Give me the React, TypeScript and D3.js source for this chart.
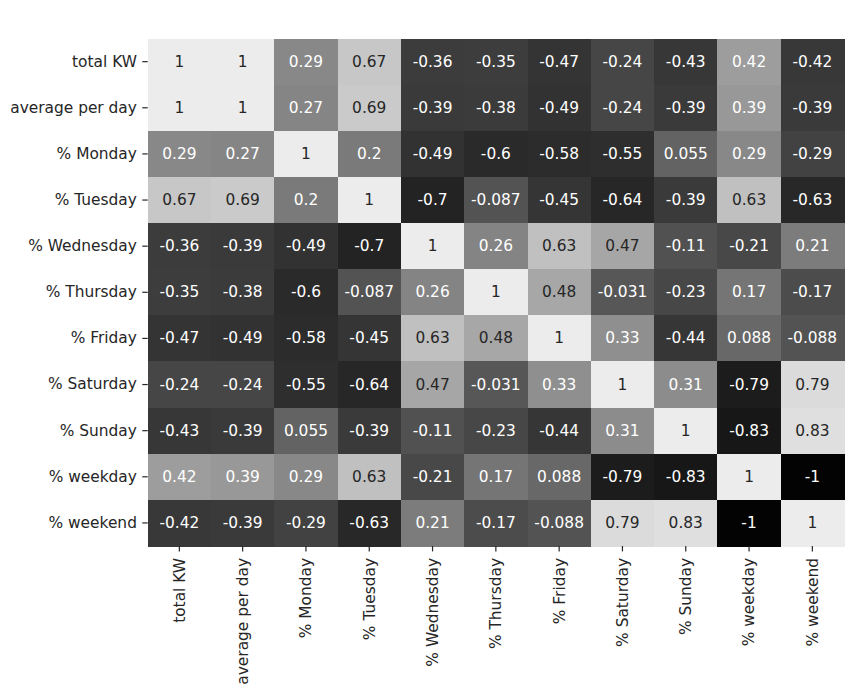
import { useRef, useEffect } from "react";
import * as d3 from "d3";

const labels = [
  "total KW",
  "average per day",
  "% Monday",
  "% Tuesday",
  "% Wednesday",
  "% Thursday",
  "% Friday",
  "% Saturday",
  "% Sunday",
  "% weekday",
  "% weekend",
];

const rowTotalKW = [1, 1, 0.29, 0.67, -0.36, -0.35, -0.47, -0.24, -0.43, 0.42, -0.42];
const rowAvgPerDay = [1, 1, 0.27, 0.69, -0.39, -0.38, -0.49, -0.24, -0.39, 0.39, -0.39];
const rowMonday = [0.29, 0.27, 1, 0.2, -0.49, -0.6, -0.58, -0.55, 0.055, 0.29, -0.29];
const rowTuesday = [0.67, 0.69, 0.2, 1, -0.7, -0.087, -0.45, -0.64, -0.39, 0.63, -0.63];
const rowWednesday = [-0.36, -0.39, -0.49, -0.7, 1, 0.26, 0.63, 0.47, -0.11, -0.21, 0.21];
const rowThursday = [-0.35, -0.38, -0.6, -0.087, 0.26, 1, 0.48, -0.031, -0.23, 0.17, -0.17];
const rowFriday = [-0.47, -0.49, -0.58, -0.45, 0.63, 0.48, 1, 0.33, -0.44, 0.088, -0.088];
const rowSaturday = [-0.24, -0.24, -0.55, -0.64, 0.47, -0.031, 0.33, 1, 0.31, -0.79, 0.79];
const rowSunday = [-0.43, -0.39, 0.055, -0.39, -0.11, -0.23, -0.44, 0.31, 1, -0.83, 0.83];
const rowWeekday = [0.42, 0.39, 0.29, 0.63, -0.21, 0.17, 0.088, -0.79, -0.83, 1, -1];
const rowWeekend = [-0.42, -0.39, -0.29, -0.63, 0.21, -0.17, -0.088, 0.79, 0.83, -1, 1];

const matrix = [
  rowTotalKW,
  rowAvgPerDay,
  rowMonday,
  rowTuesday,
  rowWednesday,
  rowThursday,
  rowFriday,
  rowSaturday,
  rowSunday,
  rowWeekday,
  rowWeekend,
];

type Cell = { r: number; c: number; v: number };

const App = () => {
  const ref = useRef<SVGSVGElement | null>(null);

  useEffect(() => {
    if (!ref.current) return;
    const svg = d3.select(ref.current);
    svg.selectAll("*").remove();

    const width = 863;
    const height = 698;
    const margin = { top: 38.6, right: 19, bottom: 152, left: 147.7 };
    const font = "'DejaVu Sans', sans-serif";
    const fs = 15.4;

    const x = d3
      .scaleBand<string>()
      .domain(labels)
      .range([margin.left, width - margin.right]);
    const y = d3
      .scaleBand<string>()
      .domain(labels)
      .range([margin.top, height - margin.bottom]);

    // grey ramp (luminance of the original palette)
    const gray = d3
      .scaleLinear<number>()
      .domain([-1, -0.8, -0.6, -0.4, -0.2, 0, 0.2, 0.4, 0.6, 0.8, 1])
      .range([3, 27, 42, 57, 73, 90, 122, 154, 187, 221, 236])
      .clamp(true);
    const fill = (v: number) => {
      const g = Math.round(gray(v));
      return d3.rgb(g, g, g).formatHex();
    };

    const cells: Cell[] = [];
    matrix.forEach((row, r) => row.forEach((v, c) => cells.push({ r, c, v })));

    const g = svg.append("g");
    g.selectAll("rect")
      .data(cells)
      .join("rect")
      .attr("x", (d) => x(labels[d.c]) ?? 0)
      .attr("y", (d) => y(labels[d.r]) ?? 0)
      .attr("width", x.bandwidth() + 0.5)
      .attr("height", y.bandwidth() + 0.5)
      .attr("fill", (d) => fill(d.v))
      .attr("shape-rendering", "crispEdges");

    g.selectAll("text")
      .data(cells)
      .join("text")
      .attr("x", (d) => (x(labels[d.c]) ?? 0) + x.bandwidth() / 2)
      .attr("y", (d) => (y(labels[d.r]) ?? 0) + y.bandwidth() / 2)
      .attr("text-anchor", "middle")
      .attr("dominant-baseline", "central")
      .attr("font-family", font)
      .attr("font-size", fs)
      .attr("fill", (d) => (gray(d.v) > 162 ? "#262626" : "#ffffff"))
      .text((d) => String(d.v));

    // Y axis
    const yAxis = d3.axisLeft(y).tickSize(5.4).tickPadding(5.4);
    const ya = svg
      .append("g")
      .attr("transform", `translate(${margin.left},0)`)
      .call(yAxis as any);
    ya.select(".domain").remove();
    ya.selectAll(".tick line").attr("stroke", "#262626").attr("stroke-width", 1.2);
    ya.selectAll(".tick text")
      .attr("font-family", font)
      .attr("font-size", fs)
      .attr("fill", "#262626");

    // X axis
    const xAxis = d3.axisBottom(x).tickSize(5.4).tickPadding(5.4);
    const xa = svg
      .append("g")
      .attr("transform", `translate(0,${height - margin.bottom})`)
      .call(xAxis as any);
    xa.select(".domain").remove();
    xa.selectAll(".tick line").attr("stroke", "#262626").attr("stroke-width", 1.2);
    xa.selectAll(".tick text")
      .attr("font-family", font)
      .attr("font-size", fs)
      .attr("fill", "#262626")
      .attr("transform", "rotate(-90)")
      .attr("x", -12)
      .attr("y", 0)
      .attr("dy", "0.35em")
      .attr("text-anchor", "end");
  }, []);

  return (
    <svg
      ref={ref}
      width={863}
      height={698}
      style={{ position: "absolute", left: 0, top: 0, background: "#fff" }}
    />
  );
};

export default App;
